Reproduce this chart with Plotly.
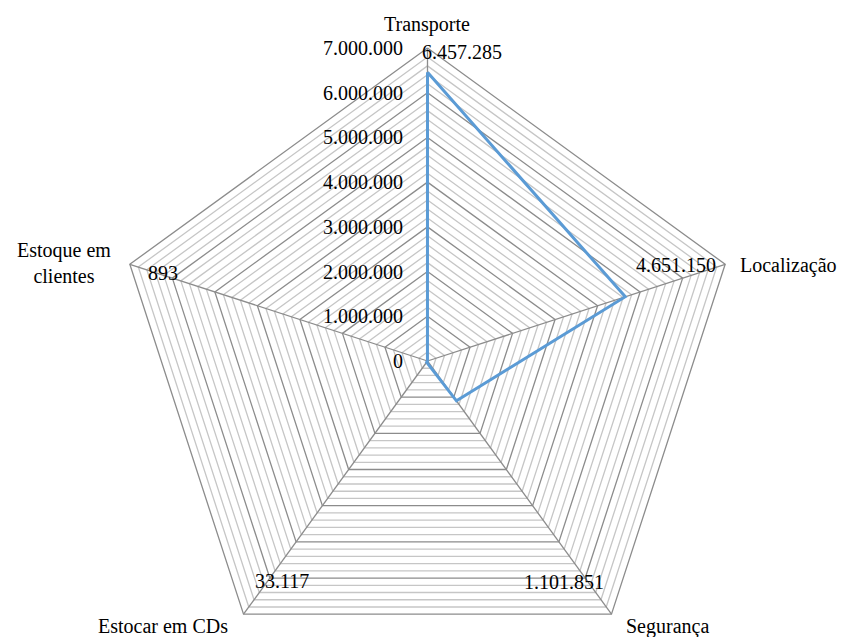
import numpy as np
import plotly.graph_objects as go

# Radar data: cost per category
categories = ["Transporte", "Localização", "Segurança", "Estocar em CDs", "Estoque em clientes"]
values = [6457285, 4651150, 1101851, 33117, 893]

# Radial scale (in units of 1.000.000)
r_max = 7
major_ticks = [0, 1, 2, 3, 4, 5, 6, 7]
major_labels = ["0", "1.000.000", "2.000.000", "3.000.000", "4.000.000",
                "5.000.000", "6.000.000", "7.000.000"]
minor_step = 0.2

FONT = "Liberation Serif"
MAJOR = "#8c8c8c"
MINOR = "#c6c6c6"
BLUE = "#5b9bd5"

W, H = 843, 637
cx, cy = 427.5, 361.0          # chart centre in pixels
px_per_unit = 313 / r_max      # pixels per 1.000.000

n = len(categories)
ang = np.deg2rad(90 - 72 * np.arange(n))   # clockwise from the top


def to_xy(r):
    r = np.asarray(r, dtype=float)
    return r * np.cos(ang), r * np.sin(ang)


def ring(level):
    x, y = to_xy(np.full(n, level))
    return np.append(x, x[0]), np.append(y, y[0])


fig = go.Figure()

# minor grid pentagons
levels = np.round(np.arange(minor_step, r_max + 1e-9, minor_step), 6)
mx, my = [], []
for lv in levels:
    if abs(lv - round(lv)) < 1e-6:
        continue
    x, y = ring(lv)
    mx += list(x) + [None]
    my += list(y) + [None]
fig.add_trace(go.Scatter(x=mx, y=my, mode="lines",
                         line=dict(color=MINOR, width=1.3), hoverinfo="skip"))

# major grid pentagons
Mx, My = [], []
for lv in major_ticks[1:]:
    x, y = ring(lv)
    Mx += list(x) + [None]
    My += list(y) + [None]
# spokes
ox, oy = to_xy(np.full(n, r_max))
for i in range(n):
    Mx += [0, ox[i], None]
    My += [0, oy[i], None]
fig.add_trace(go.Scatter(x=Mx, y=My, mode="lines",
                         line=dict(color=MAJOR, width=1.3), hoverinfo="skip"))

# data series
vx, vy = to_xy(np.array(values) / 1e6)
fig.add_trace(go.Scatter(x=np.append(vx, vx[0]), y=np.append(vy, vy[0]),
                         mode="lines", line=dict(color=BLUE, width=3),
                         hoverinfo="skip"))

annotations = []
font = dict(family=FONT, size=20, color="#000000")

# radial tick labels along the top axis
for t, lab in zip(major_ticks, major_labels):
    annotations.append(dict(x=0, y=t, xref="x", yref="y", text=lab, showarrow=False,
                            xanchor="right", yanchor="middle", xshift=-23, yshift=0,
                            font=font))


def fmt(v):
    return f"{v:,}".replace(",", ".")


# value labels near the outer vertices
val_pos = [
    dict(xanchor="left", xshift=-8, yshift=-4),
    dict(xanchor="right", xshift=-7, yshift=-1),
    dict(xanchor="right", xshift=-5, yshift=32),
    dict(xanchor="left", xshift=9, yshift=33),
    dict(xanchor="left", xshift=16, yshift=-9),
]
for i, v in enumerate(values):
    annotations.append(dict(x=ox[i], y=oy[i], xref="x", yref="y", text=fmt(v),
                            showarrow=False, yanchor="middle", font=font, **val_pos[i]))

# category labels
cat_text = ["Transporte", "Localização", "Segurança", "Estocar em CDs", "Estoque em<br>clientes"]
cat_pos = [
    dict(xanchor="center", xshift=-1, yshift=24),
    dict(xanchor="left", xshift=13, yshift=-1),
    dict(xanchor="center", xshift=56, yshift=-12),
    dict(xanchor="center", xshift=-81, yshift=-12),
    dict(xanchor="right", xshift=-17, yshift=1),
]
for i, t in enumerate(cat_text):
    annotations.append(dict(x=ox[i], y=oy[i], xref="x", yref="y", text=t,
                            showarrow=False, yanchor="middle", align="center",
                            font=font, **cat_pos[i]))

fig.update_layout(
    width=W, height=H,
    margin=dict(l=0, r=0, t=0, b=0),
    paper_bgcolor="white", plot_bgcolor="white",
    showlegend=False,
    xaxis=dict(range=[-cx / px_per_unit, (W - cx) / px_per_unit], visible=False,
               fixedrange=True),
    yaxis=dict(range=[-(H - cy) / px_per_unit, cy / px_per_unit], visible=False,
               fixedrange=True),
    annotations=annotations,
)

fig.write_html("out.html", config={"displayModeBar": False})
